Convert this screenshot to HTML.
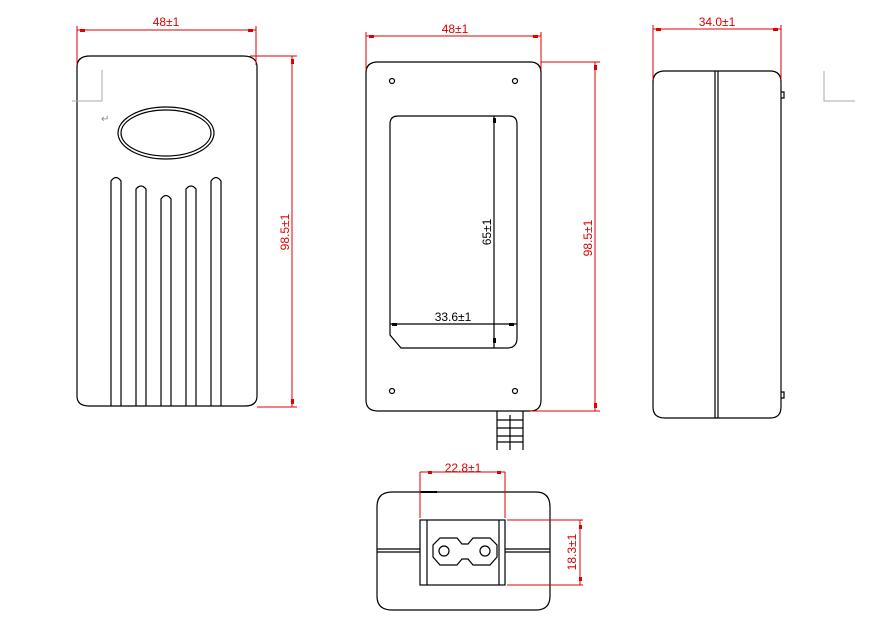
<!DOCTYPE html>
<html><head><meta charset="utf-8"><style>html,body{margin:0;padding:0;background:#fff}svg{display:block}</style></head>
<body>
<svg width="877" height="642" viewBox="0 0 877 642" xmlns="http://www.w3.org/2000/svg" font-family="Liberation Sans, sans-serif">
<g fill="none" stroke="#000" stroke-width="1.2">
<!-- View 1 -->
<path d="M77,67 Q77,56 90,56 H243 Q257,56 257,67 V396 Q257,406 245,406 H89 Q77,406 77,396 Z"/>
<ellipse cx="166" cy="133" rx="48" ry="26"/>
<ellipse cx="166" cy="133" rx="45" ry="23"/>
<path d="M111,406 V181 Q116,174 121,181 V406"/>
<path d="M136,406 V189 Q141,183 146,189 V406"/>
<path d="M161,406 V199 Q166,192 171,199 V406"/>
<path d="M186,406 V189 Q191,183 196,189 V406"/>
<path d="M211,406 V181 Q216,174 221,181 V406"/>
<!-- View 2 -->
<path d="M366,73 Q366,62 378,62 H530 Q541,62 541,73 V400 Q541,411 530,411 H378 Q366,411 366,400 Z"/>
<path d="M390,124 Q390,116 398,116 H509 Q517,116 517,124 V338 Q517,348 507,348 H401 L390,335 Z"/>
<circle cx="392" cy="81" r="2.5"/><circle cx="515" cy="81" r="2.5"/>
<circle cx="392" cy="391" r="2.5"/><circle cx="515" cy="391" r="2.5"/>
<path d="M497,411 V450 M523,411 V450 M497,420 H523 M497,428 H523 M497,436 H523 M497,442 H523 M510,415 V450"/>
<!-- View 3 -->
<path d="M653,82 Q653,71 665,71 H770 Q781,71 781,82 V407 Q781,418 770,418 H665 Q653,418 653,407 Z"/>
<path d="M715,71 V418 M718,71 V418"/>
<path d="M781,92 H784 V98 H781 M781,392 H784 V398 H781"/>
<!-- View 4 -->
<path d="M377,507 Q377,492 392,492 H536 Q550,492 550,507 V596 Q550,610 536,610 H392 Q377,610 377,596 Z"/>
<rect x="420" y="520" width="85" height="65"/>
<path d="M427,520 V585 M499,520 V585"/>
<path d="M377,549 H420 M377,552 H420 M505,549 H550 M505,552 H550"/>
<path d="M440,538 H457 L462,544 L468,544 L473,538 H490 L497,545 V557 L490,565 H473 L468,559 H462 L457,565 H440 L433,557 V545 Z"/>
<circle cx="444" cy="551" r="5"/><circle cx="485" cy="551" r="5"/>
<path d="M420,492 H437" stroke-width="2"/>
<!-- inner dims (black) -->
<path d="M390,324 H517 M494,116 V348"/>
</g>
<g fill="none" stroke="#aaa" stroke-width="1">
<path d="M72,101 H102 V70"/>
<path d="M824,71 V101 H855"/>
</g>
<g fill="none" stroke="#d00" stroke-width="1">
<path d="M77,26 V65 M256,26 V65 M77,30 H256"/>
<path d="M250,56 H297 M257,407 H297 M292,56 V407"/>
<path d="M366,32 V70 M541,32 V70 M366,36 H541"/>
<path d="M541,62 H600 M530,411 H600 M595,62 V411"/>
<path d="M653,25 V80 M781,25 V80 M653,29 H781"/>
<path d="M420,472 H505 M420,472 V518 M505,472 V518"/>
<path d="M507,520 H583 M507,585 H583 M580,520 V585"/>
</g>
<g fill="#d00">
<rect x="80" y="29" width="5" height="3"/><rect x="248" y="29" width="5" height="3"/>
<rect x="291" y="59" width="3" height="5"/><rect x="291" y="399" width="3" height="5"/>
<rect x="369" y="35" width="5" height="3"/><rect x="533" y="35" width="5" height="3"/>
<rect x="594" y="65" width="3" height="5"/><rect x="594" y="403" width="3" height="5"/>
<rect x="656" y="28" width="5" height="3"/><rect x="773" y="28" width="5" height="3"/>
<rect x="428" y="471" width="4" height="3"/><rect x="497" y="471" width="4" height="3"/>
<rect x="579" y="525" width="3" height="4"/><rect x="579" y="577" width="3" height="4"/>
</g>
<g fill="#000"><rect x="392" y="323" width="5" height="3"/><rect x="509" y="323" width="5" height="3"/><rect x="493" y="118" width="3" height="5"/><rect x="493" y="338" width="3" height="5"/></g>
<g font-size="12" fill="#d00" text-anchor="middle">
<text x="166" y="26">48±1</text>
<text x="455" y="33">48±1</text>
<text x="717" y="26">34.0±1</text>
<text x="463" y="472">22.8±1</text>
<text transform="translate(289,232) rotate(-90)">98.5±1</text>
<text transform="translate(592,238) rotate(-90)">98.5±1</text>
<text transform="translate(576,552) rotate(-90)">18.3±1</text>
</g>
<g font-size="12" fill="#000" text-anchor="middle">
<text x="453" y="321">33.6±1</text>
<text transform="translate(491,232) rotate(-90)">65±1</text>
</g>
<text x="101" y="122" font-size="10" fill="#888">↵</text>
</svg>
</body></html>
